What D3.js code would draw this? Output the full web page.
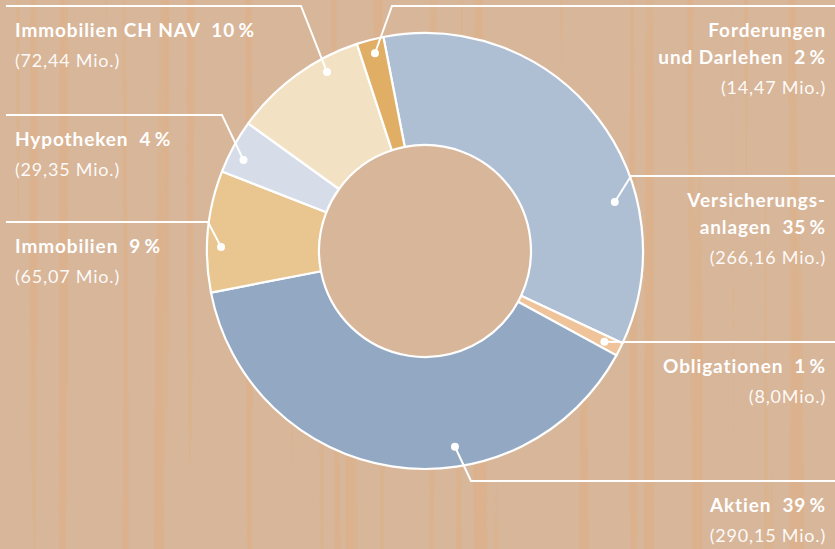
<!DOCTYPE html>
<html>
<head>
<meta charset="utf-8">
<script src="https://cdn.jsdelivr.net/npm/d3@7"></script>
<style>
  html, body { margin: 0; padding: 0; background: #d8b69a; }
  svg { display: block; }
  text { font-family: Lato, "Open Sans", sans-serif; fill: #fff; }
</style>
</head>
<body>
<svg id="chart"></svg>
<script>
// donut — Anlagen nach Kategorie, clockwise from the top

const categories  = ['Versicherungsanlagen', 'Obligationen', 'Aktien', 'Immobilien',
                     'Hypotheken', 'Immobilien CH NAV', 'Forderungen und Darlehen'];
const labelLines  = [['Versicherungs-', 'anlagen'], ['Obligationen'], ['Aktien'], ['Immobilien'],
                     ['Hypotheken'], ['Immobilien CH NAV'], ['Forderungen', 'und Darlehen']];
const shares      = [35, 1, 39, 9, 4, 10, 2];               // percent
const amountTexts = ['266,16 Mio.', '8,0Mio.', '290,15 Mio.', '65,07 Mio.',
                     '29,35 Mio.', '72,44 Mio.', '14,47 Mio.'];
const colors      = ['#aebfd3', '#f0c49a', '#93a9c3', '#e9c590', '#d6dde9', '#f3e1c3', '#e0ae64'];

// leader layout: dot (polar, deg from top), elbow point, side
const leaders = [
    { a: 75.5,  r: 196, elbow: [631, 176], side: 'right' },
    { a: 116.8, r: 201, elbow: [623, 342], side: 'right' },
    { a: 171.3, r: 198, elbow: [471, 481], side: 'right' },
    { a: 271.1, r: 204, elbow: [208, 222], side: 'left'  },
    { a: 296.6, r: 203, elbow: [222, 115], side: 'left'  },
    { a: 331.3, r: 204, elbow: [301,   6], side: 'left'  },
    { a: 345.8, r: 204, elbow: [392,   6], side: 'right' },
];

const W = 835, H = 549;
const CX = 425, CY = 251, R_OUT = 218, R_IN = 106;
const BG = '#d8b69a';
const START = -11 * Math.PI / 180;

const svg = d3.select('#chart').attr('width', W).attr('height', H);

// ── Wood background ─────────────────────────────────────────────────────────
const defs = svg.append('defs');
const f = defs.append('filter').attr('id', 'grain')
    .attr('x', 0).attr('y', 0).attr('width', 1).attr('height', 1)
    .attr('color-interpolation-filters', 'sRGB');
f.append('feTurbulence')
    .attr('type', 'fractalNoise')
    .attr('baseFrequency', '0.07 0.0006')
    .attr('numOctaves', 2)
    .attr('seed', 3);
f.append('feColorMatrix')
    .attr('type', 'matrix')
    .attr('values', '0 0 0 0 0.87  0 0 0 0 0.68  0 0 0 0 0.50  5 0 0 0 -2.55');
f.append('feComponentTransfer')
    .append('feFuncA').attr('type', 'discrete').attr('tableValues', '0 0 0.35 0.5');

svg.append('rect').attr('width', W).attr('height', H).attr('fill', BG);
svg.append('rect').attr('width', W).attr('height', H).attr('fill', '#fff')
    .attr('filter', 'url(#grain)');

// ── Donut ───────────────────────────────────────────────────────────────────
const g = svg.append('g').attr('transform', `translate(${CX},${CY})`);

g.append('circle').attr('r', R_IN).attr('fill', BG);

const pie = d3.pie().sort(null).value(d => d)
    .startAngle(START).endAngle(START + 2 * Math.PI);
const arc = d3.arc().innerRadius(R_IN).outerRadius(R_OUT);

g.selectAll('path.slice')
    .data(pie(shares))
    .join('path')
    .attr('class', 'slice')
    .attr('d', arc)
    .attr('fill', (d, i) => colors[i])
    .attr('stroke', '#fff')
    .attr('stroke-width', 2.2)
    .attr('stroke-linejoin', 'round');

// ── Leaders + labels ────────────────────────────────────────────────────────
const polar = (a, r) => {
    const t = a * Math.PI / 180;
    return [CX + r * Math.sin(t), CY - r * Math.cos(t)];
};

const ann = svg.append('g');

leaders.forEach((L, i) => {
    const dot = polar(L.a, L.r);
    const [ex, ey] = L.elbow;
    const endX = L.side === 'left' ? 6 : W;

    ann.append('polyline')
        .attr('points', [dot, [ex, ey], [endX, ey]].map(p => p.join(',')).join(' '))
        .attr('fill', 'none')
        .attr('stroke', '#fff')
        .attr('stroke-width', 2);

    ann.append('circle')
        .attr('cx', dot[0]).attr('cy', dot[1]).attr('r', 4)
        .attr('fill', '#fff');

    const tx = L.side === 'left' ? 15 : 826;
    const anchor = L.side === 'left' ? 'start' : 'end';
    let y = ey + 31;

    const lines = labelLines[i];
    lines.forEach((ln, j) => {
        const t = ann.append('text')
            .attr('x', tx).attr('y', y)
            .attr('text-anchor', anchor)
            .attr('font-size', 19)
            .attr('font-weight', 700)
            .attr('letter-spacing', 0.9)
            .style('white-space', 'pre');
        if (j === lines.length - 1) {
            t.text(`${ln}  ${shares[i]}\u2009%`);
        } else {
            t.text(ln);
        }
        y += (j === lines.length - 1) ? 30 : 27;
    });

    ann.append('text')
        .attr('x', tx).attr('y', y)
        .attr('text-anchor', anchor)
        .attr('font-size', 18)
        .attr('font-weight', 400)
        .attr('letter-spacing', 0.8)
        .attr('fill-opacity', 0.95)
        .text(`(${amountTexts[i]})`);
});
</script>
</body>
</html>
